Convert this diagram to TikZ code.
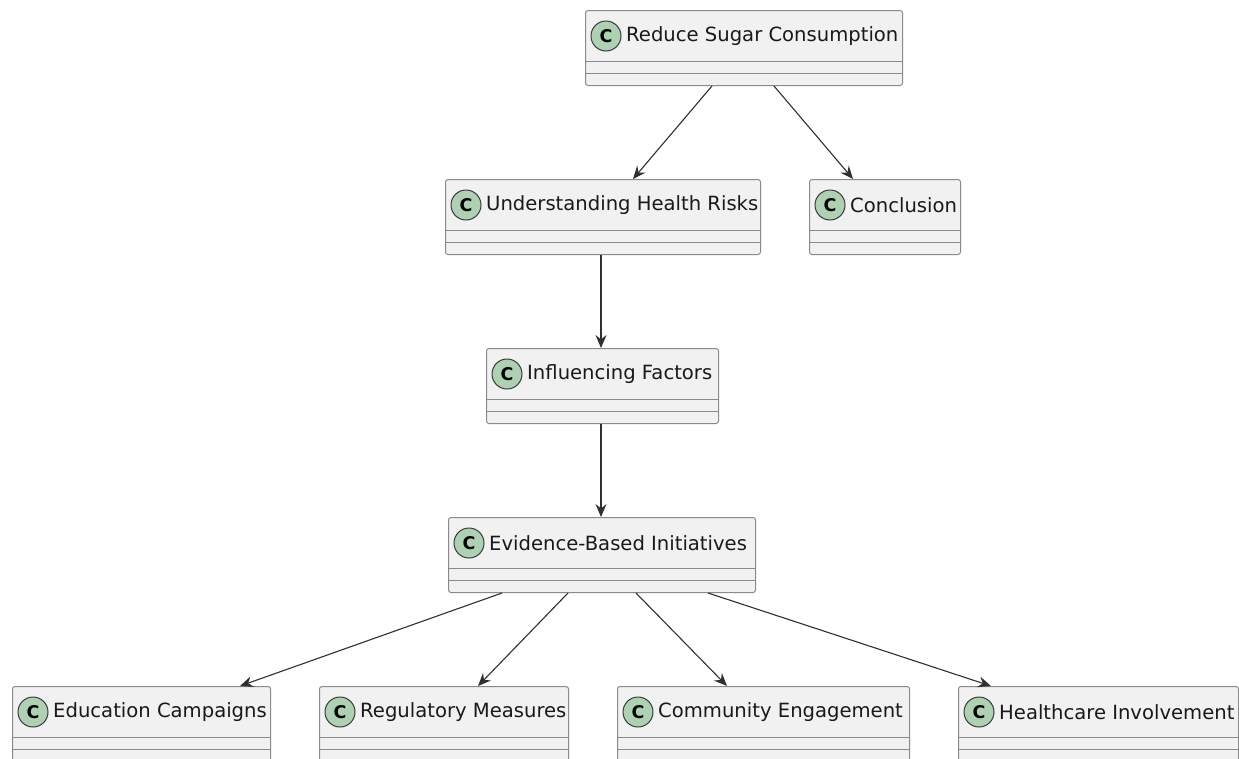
\documentclass[tikz,border=0pt]{standalone}
\usepackage{fontspec}
\setmainfont{DejaVu Sans}
\usetikzlibrary{arrows.meta,calc}
\definecolor{clsborder}{HTML}{8A8A8A}
\definecolor{clsfill}{HTML}{F1F1F1}
\definecolor{circfill}{HTML}{ADD1B2}
\definecolor{circborder}{HTML}{3A3A3A}
\definecolor{arrcol}{HTML}{303030}
\tikzset{
  clsbox/.style={draw=clsborder, fill=clsfill, rounded corners=2.5pt, line width=1pt,
    inner sep=0pt, anchor=north west, minimum height=75pt},
  sepline/.style={draw=clsborder, line width=1pt},
  circc/.style={circle, draw=circborder, fill=circfill, line width=1pt, minimum size=30pt,
    inner sep=0pt, font=\fontsize{17.5}{17.5}\selectfont\bfseries, text=black},
  lbl/.style={anchor=west, inner sep=0pt, font=\fontsize{19.6}{23}\selectfont, text=black!90},
  arr/.style={draw=arrcol, line width=1.1pt, -{Stealth[length=13pt, width=11pt, inset=4.5pt]}}
}
\newcommand{\classbox}[5]{%
  \node[clsbox, minimum width=#4pt] (#1) at (#2,#3) {};
  \draw[sepline] ($(#1.north west)+(0,51)$) -- ($(#1.north east)+(0,51)$);
  \draw[sepline] ($(#1.north west)+(0,63)$) -- ($(#1.north east)+(0,63)$);
  \node[circc] (#1-c) at ($(#1.north west)+(21,26)$) {C};
  \node[lbl] (#1-t) at ($(#1.north west)+(41,26)$) {#5};
}
\begin{document}
\begin{tikzpicture}[x=1pt,y=-1pt]
\useasboundingbox (0,0) rectangle (1239,758);
\clip (0,0) rectangle (1239,758);
\fill[white] (0,0) rectangle (1239,758);
\classbox{reduce}{585}{10}{317}{Reduce Sugar Consumption}
\classbox{underst}{445}{179}{315}{Understanding Health Risks}
\classbox{concl}{809}{179}{151}{Conclusion}
\classbox{infl}{486}{348}{232}{Influencing Factors}
\classbox{evid}{448}{517}{307}{Evidence-Based Initiatives}
\classbox{edu}{12}{686}{258}{Education Campaigns}
\classbox{reg}{319}{686}{249}{Regulatory Measures}
\classbox{comm}{617}{686}{292}{Community Engagement}
\classbox{hc}{958}{686}{280}{Healthcare Involvement}
\draw[arr] ($(reduce.south west)+(127,0)$) -- ($(underst.north west)+(188,0)$);
\draw[arr] ($(reduce.south west)+(189,0)$) -- ($(concl.north west)+(44,0)$);
\draw[arr] ($(underst.south west)+(156,0)$) -- ($(infl.north west)+(115,0)$);
\draw[arr] ($(infl.south west)+(115,0)$) -- ($(evid.north west)+(153,0)$);
\draw[arr] ($(evid.south west)+(54,0)$) -- ($(edu.north west)+(228,0)$);
\draw[arr] ($(evid.south west)+(120,0)$) -- ($(reg.north west)+(159,0)$);
\draw[arr] ($(evid.south west)+(188,0)$) -- ($(comm.north west)+(110,0)$);
\draw[arr] ($(evid.south west)+(260,0)$) -- ($(hc.north west)+(33,0)$);
\end{tikzpicture}
\end{document}
